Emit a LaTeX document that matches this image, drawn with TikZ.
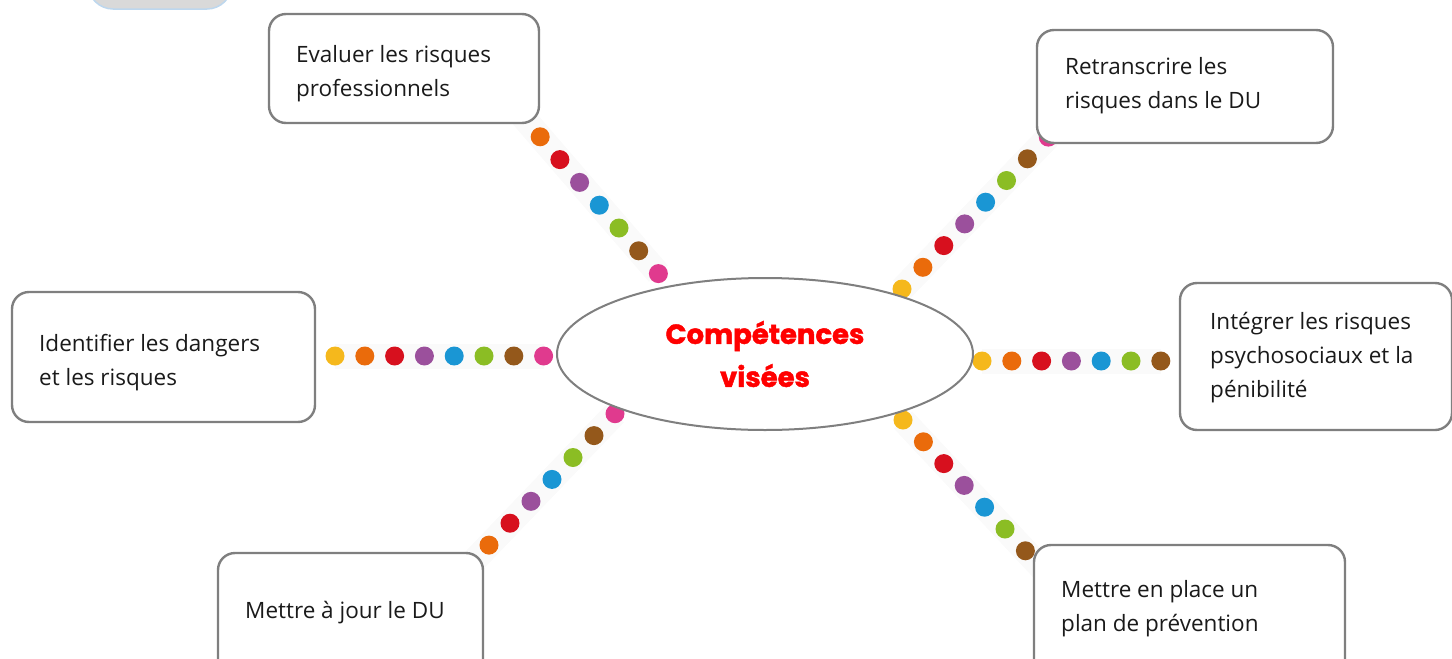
\documentclass[tikz,border=0pt]{standalone}
\usepackage{fontspec}
\setmainfont{Open Sans}
\newfontfamily\titlefont{Poppins}[BoldFeatures={FakeBold=1.6}]
\usetikzlibrary{shapes.geometric}
\definecolor{dyellow}{HTML}{F5B81C}
\definecolor{dorange}{HTML}{EA6B0B}
\definecolor{dred}{HTML}{D7101E}
\definecolor{dpurple}{HTML}{9B509C}
\definecolor{dblue}{HTML}{1A96D4}
\definecolor{dgreen}{HTML}{8BBD24}
\definecolor{dbrown}{HTML}{94581B}
\definecolor{dpink}{HTML}{E03A8E}
\definecolor{boxgray}{HTML}{7F7F7F}
\definecolor{textblack}{HTML}{1A1A1A}
\definecolor{tabfill}{HTML}{D9D9D9}
\definecolor{tabedge}{HTML}{BDD7EE}
\definecolor{titlered}{HTML}{FF0000}
\begin{document}
\begin{tikzpicture}[x=1pt,y=-1pt,
  box/.style={draw=boxgray, line width=2.4pt, rounded corners=17pt, fill=white, inner sep=0pt},
  boxlabel/.style={anchor=base west, align=left, font=\fontsize{22.5}{34}\selectfont, text=textblack, inner sep=0pt},
  strip/.style={line width=25pt, draw=black!2},
]
\useasboundingbox (0,0) rectangle (1452,659);
\begin{scope}
\clip (0,0) rectangle (1452,659);
% cropped tab at top left
\draw[fill=tabfill, draw=tabedge, line width=1.5pt, rounded corners=25pt] (88,-60) rectangle (232,9);

% dotted connectors
\coordinate (lA) at (335,356);
\coordinate (lB) at (520.5,114);
\coordinate (lC) at (902,289);
\coordinate (lD) at (982,361);
\coordinate (lE) at (468,567);
\coordinate (lF) at (903,420);

\draw[strip] (lA) -- ++(7*29.8,0);
\draw[strip] (lB) -- ++(7*19.7,7*22.8);
\draw[strip] (lC) -- ++(7*20.9,-7*21.7);
\draw[strip] (lD) -- ++(6*29.8,0);
\draw[strip] (lE) -- ++(7*21,-7*21.9);
\draw[strip] (lF) -- ++(7*20.4,7*21.8);

\foreach \c [count=\i from 0] in {dyellow,dorange,dred,dpurple,dblue,dgreen,dbrown,dpink} {
  \fill[\c] (lA) ++({\i*29.8},0) circle[radius=9.5pt];
  \fill[\c] (lB) ++({\i*19.7},{\i*22.8}) circle[radius=9.5pt];
  \fill[\c] (lC) ++({\i*20.9},{-\i*21.7}) circle[radius=9.5pt];
  \fill[\c] (lE) ++({\i*21},{-\i*21.9}) circle[radius=9.5pt];
  \fill[\c] (lF) ++({\i*20.4},{\i*21.8}) circle[radius=9.5pt];
}
\foreach \c [count=\i from 0] in {dyellow,dorange,dred,dpurple,dblue,dgreen,dbrown} {
  \fill[\c] (lD) ++({\i*29.8},0) circle[radius=9.5pt];
}

% centre
\node[ellipse, draw=boxgray, line width=2pt, fill=white, minimum width=416pt, minimum height=152pt,
      inner sep=0pt, align=center, font=\titlefont\bfseries\fontsize{27.5}{43}\selectfont, text=titlered]
      (c) at (765,354) {Compétences\\visées};

% boxes
\node[box, minimum width=270pt, minimum height=109pt] (b1) at (404,68.5) {};
\node[box, minimum width=296pt, minimum height=113pt] (b2) at (1185,86.5) {};
\node[box, minimum width=303pt, minimum height=130pt] (b3) at (163.5,357) {};
\node[box, minimum width=272pt, minimum height=147pt] (b4) at (1316,356.5) {};
\node[box, minimum width=265pt, minimum height=150pt] (b5) at (350.5,628) {};
\node[box, minimum width=311pt, minimum height=150pt] (b6) at (1189.5,620) {};

\node[boxlabel] (t1) at (296,96) {Evaluer les risques\\professionnels};
\node[boxlabel] (t2) at (1065,108) {Retranscrire les\\risques dans le DU};
\node[boxlabel] (t3) at (39,385) {Identifier les dangers\\et les risques};
\node[boxlabel] (t4) at (1210,397) {Intégrer les risques\\psychosociaux et la\\pénibilité};
\node[boxlabel] (t5) at (245,618) {Mettre à jour le DU};
\node[boxlabel] (t6) at (1061,631) {Mettre en place un\\plan de prévention};
\end{scope}
\end{tikzpicture}
\end{document}
